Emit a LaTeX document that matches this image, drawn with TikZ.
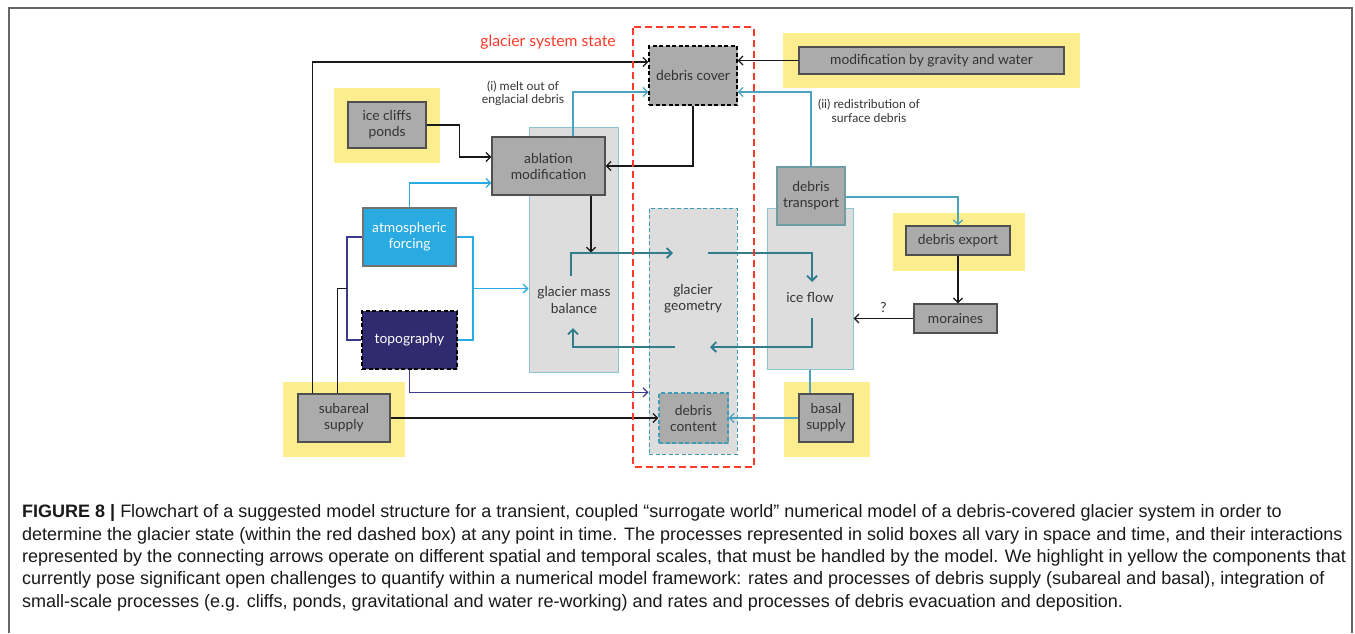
\documentclass[tikz,border=0pt]{standalone}
\usepackage{fontspec}
\setmainfont{Lato}
\newfontfamily\capfont{Liberation Sans}
\usetikzlibrary{arrows.meta,calc,shadows}
\definecolor{boxgray}{HTML}{ABABAB}
\definecolor{boxedge}{HTML}{505050}
\definecolor{panelc}{HTML}{DDDDDD}
\definecolor{paneledge}{HTML}{8CC3D0}
\definecolor{hl}{HTML}{FCEE8F}
\definecolor{loopc}{HTML}{2F7D8E}
\definecolor{ltblue}{HTML}{4AA3C0}
\definecolor{skyb}{HTML}{29ABE2}
\definecolor{navyfill}{HTML}{2F2B6E}
\definecolor{navyline}{HTML}{3C3A8E}
\definecolor{redd}{HTML}{FF3A2A}
\definecolor{txt}{HTML}{333333}
\definecolor{geoedge}{HTML}{3D9DB8}
\tikzset{
  box/.style={draw=boxedge, line width=1.2, fill=boxgray, text=txt, align=center,
    font=\fontsize{13.8}{16}\selectfont, inner sep=0,
    drop shadow={shadow xshift=1.2pt, shadow yshift=-1.2pt, fill=black, opacity=0.25}},
  panel/.style={draw=paneledge, line width=1, fill=panelc, inner sep=0},
  lbl/.style={text=txt, align=center, font=\fontsize{13.8}{16.5}\selectfont, inner sep=0},
  small/.style={text=txt, align=center, font=\fontsize{12.2}{13.5}\selectfont, inner sep=0},
  arr/.style={line width=1.3, -{Straight Barb[length=4.5pt,width=9pt]}},
  blk/.style={draw=black!90},
  lblue/.style={draw=ltblue},
  sky/.style={draw=skyb},
  navy/.style={draw=navyline},
  loop/.style={draw=loopc, line width=1.8, -{Straight Barb[length=5pt,width=10pt]}},
}
\begin{document}
\begin{tikzpicture}[x=1pt,y=-1pt]
\useasboundingbox (0,0) rectangle (1355,633);
\fill[white] (0,0) rectangle (1355,633);
\draw[black!60, line width=1.3] (9,633) -- (9,8) -- (1352,8) -- (1352,633);

% yellow highlights
\fill[hl] (783,33) rectangle (1080,88);
\fill[hl] (334,88) rectangle (440,163);
\fill[hl] (893,213) rectangle (1025,271);
\fill[hl] (283,382) rectangle (405,457);
\fill[hl] (784,382) rectangle (870,457);

% panels
\node[panel, minimum width=89, minimum height=245] (mbpanel) at (573.5,249.5) {};
\node[panel, draw=geoedge, dashed, dash pattern=on 4pt off 2.5pt, minimum width=88, minimum height=246] (geopanel) at (693,331) {};
\node[panel, minimum width=86, minimum height=161] (ifpanel) at (810,288.5) {};
\node[lbl] (mbtext) at (574,300) {glacier mass\\balance};
\node[lbl] (geotext) at (693,298.5) {glacier\\geometry};
\node[lbl] (iftext) at (810,298) {ice flow};

% boxes
\node[box, dashed, draw=black, dash pattern=on 4pt off 2.5pt, minimum width=88, minimum height=59] (dc) at (693,75.5) {debris cover};
\node[box, minimum width=265, minimum height=27] (mod) at (931.5,60.5) {modification by gravity and water};
\node[box, minimum width=78, minimum height=46] (icp) at (387,125) {ice cliffs\\ponds};
\node[box, minimum width=113, minimum height=58] (abl) at (548.5,166) {ablation\\modification};
\node[box, fill=skyb, draw=black!55, text=white, minimum width=93, minimum height=58] (atm) at (409.5,237) {atmospheric\\forcing};
\node[box, fill=navyfill, draw=black, dashed, dash pattern=on 4pt off 2.5pt, text=white, minimum width=95, minimum height=58] (topo) at (409.5,340) {topography};
\node[box, minimum width=92, minimum height=48] (sub) at (344,418) {subareal\\supply};
\node[box, draw=geoedge, dashed, dash pattern=on 4pt off 2.5pt, minimum width=69, minimum height=50] (dcont) at (693.5,418) {debris\\content};
\node[box, draw=paneledge!80!black, minimum width=68, minimum height=58] (dt) at (811,196) {debris\\transport};
\node[box, minimum width=104, minimum height=29] (dexp) at (958,240.5) {debris export};
\node[box, minimum width=83, minimum height=29] (mor) at (955.5,318.5) {moraines};
\node[box, minimum width=54, minimum height=48] (bas) at (826,418) {basal\\supply};

% labels
\node[text=redd, font=\fontsize{15.7}{18}\selectfont, inner sep=0] (gss) at (548,42) {glacier system state};
\node[small] (melt) at (523,93.5) {(i) melt out of\\englacial debris};
\node[small] (redis) at (869,111) {(ii) redistribution of\\surface debris};

% connectors
\draw[arr,blk] ($(sub.north west)+(15,0)$) |- ($(dc.west)+(0,-13.5)$);
\draw[arr,blk] (mod.west) -- (dc.east |- mod.west);
\draw[arr,lblue] ($(abl.north)+(24.5,0)$) |- ($(dc.west)+(0,16.5)$);
\draw[arr,lblue] (dt.north) |- ($(dc.east)+(0,16.5)$);
\draw[arr,blk] (dc.south) |- (abl.east);
\draw[arr,blk] (icp.east) -- ++(33,0) |- ($(abl.west)+(0,-9)$);
\draw[arr,sky] (atm.north) |- ($(abl.west)+(0,17)$);
\coordinate (rb) at ($(atm.east)!0.5!(topo.east)+(16,0)$);
\coordinate (lb) at ($(atm.west)!0.5!(topo.west)+(-15,0)$);
\draw[line width=1.3,sky] (atm.east) -| (rb) |- (topo.east);
\draw[arr,sky] (rb) -- (rb -| mbpanel.west);
\draw[line width=1.3,navy] (atm.west) -| (lb) |- (topo.west);
\draw[line width=1.3,blk] ($(sub.north west)+(40,0)$) |- (lb);
\draw[arr,navy] (topo.south) |- (dcont.north -| geopanel.west);
\draw[arr,blk] (sub.east) -- (dcont.west);
\draw[arr,lblue] (bas.west) -- (dcont.east);
\draw[line width=1.3,lblue] (ifpanel.south) -- (bas.north -| ifpanel.south);
\draw[arr,lblue] ($(dt.east)+(0,1)$) -| (dexp.north);
\draw[arr,blk] (dexp.south) -- (dexp.south |- mor.north);
\draw[arr,blk] (mor.west) -- node[above=5pt, text=txt, font=\fontsize{13.8}{15}\selectfont, inner sep=0] (q) {?} (mor.west -| ifpanel.east);
\draw[arr,blk] ($(abl.south)+(42.5,0)$) -- ($(abl.south)+(42.5,57)$);

% loop
\coordinate (l1) at (571,276);
\coordinate (l2) at (673,253);
\coordinate (l3) at (708,253);
\coordinate (l4) at (812,282);
\coordinate (l5) at (812,318);
\coordinate (l6) at (710,347);
\coordinate (l7) at (675,347);
\coordinate (l8) at (573,328);
\draw[loop] (l1) |- (l2);
\draw[loop] (l3) -| (l4);
\draw[loop] (l5) |- (l6);
\draw[loop] (l7) -| (l8);

% red system box
\draw[redd, line width=2.4, dash pattern=on 7pt off 4pt, rounded corners=1pt] (633,27) rectangle (754,467);

% caption
\node[anchor=base west, align=left, text=black!90, inner sep=0,
  font=\capfont\fontsize{18}{22.3}\selectfont] (cap) at (22,607)
{\textbf{FIGURE 8 |} Flowchart of a suggested model structure for a transient, coupled “surrogate world” numerical model of a debris-covered glacier system in order to\\
determine the glacier state (within the red dashed box) at any point in time. The processes represented in solid boxes all vary in space and time, and their interactions\\
represented by the connecting arrows operate on different spatial and temporal scales, that must be handled by the model. We highlight in yellow the components that\\
currently pose significant open challenges to quantify within a numerical model framework: rates and processes of debris supply (subareal and basal), integration of\\
small-scale processes (e.g. cliffs, ponds, gravitational and water re-working) and rates and processes of debris evacuation and deposition.};
\end{tikzpicture}
\end{document}
